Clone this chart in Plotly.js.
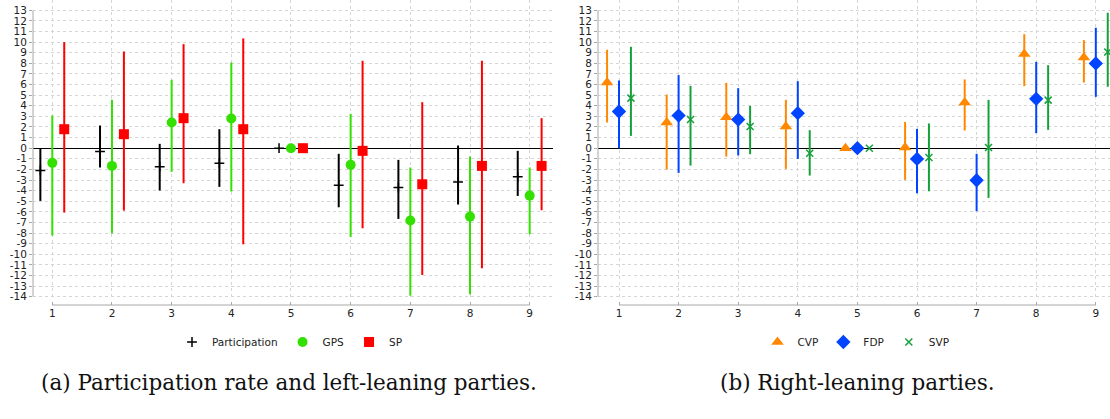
<!DOCTYPE html>
<html>
<head>
<meta charset="utf-8">
<script src="https://cdn.plot.ly/plotly-3.0.1.min.js"></script>
<style>html,body{margin:0;padding:0;background:#fff;}#chart{width:1110px;height:419px;}</style>
</head>
<body>
<div id="chart"></div>
<script>
// ---- data ----
const groups = [1, 2, 3, 4, 5, 6, 7, 8, 9];
const yTickVals = [-14,-13,-12,-11,-10,-9,-8,-7,-6,-5,-4,-3,-2,-1,0,1,2,3,4,5,6,7,8,9,10,11,12,13];
const yTickText = ["-14","-13","-12","-11","-10","-9","-8","-7","-6","-5","-4","-3","-2","-1","0","1","2","3","4","5","6","7","8","9","10","11","12","13"];

// (a) participation and left-leaning parties
const partMean = [-2.10, -0.31, -1.76, -1.42, 0, -3.49, -3.71, -3.18, -2.70];
const partLow  = [-4.97, -1.82, -3.99, -3.65, 0, -5.57, -6.67, -5.31, -4.50];
const partHigh = [-0.05, 2.14, 0.41, 1.79, 0, -0.53, -1.10, 0.25, -0.25];
const gpsMean = [-1.38, -1.67, 2.42, 2.80, 0, -1.57, -6.82, -6.45, -4.47];
const gpsLow  = [-8.24, -8.02, -2.23, -4.09, 0, -8.36, -13.90, -13.77, -8.11];
const gpsHigh = [3.08, 4.56, 6.45, 8.08, 0, 3.24, -1.82, -0.79, -1.82];
const spMean = [1.79, 1.32, 2.83, 1.79, 0, -0.25, -3.40, -1.67, -1.67];
const spLow  = [-6.07, -5.88, -3.30, -9.06, 0, -7.55, -11.95, -11.32, -5.85];
const spHigh = [10.00, 9.12, 9.81, 10.35, 0, 8.24, 4.34, 8.24, 2.83];

// (b) right-leaning parties
const cvpMean = [6.19, 2.42, 2.92, 2.04, 0, 0.06, 4.31, 8.87, 8.55];
const cvpLow  = [2.42, -2.01, -0.79, -1.95, 0, -2.99, 1.67, 5.85, 6.19];
const cvpHigh = [9.28, 5.06, 6.16, 4.56, 0, 2.48, 6.48, 10.75, 10.19];
const fdpMean = [3.46, 3.08, 2.70, 3.30, 0, -1.01, -3.02, 4.65, 7.99];
const fdpLow  = [0.00, -2.33, -0.69, -1.01, 0, -4.25, -5.94, 1.42, 4.84];
const fdpHigh = [6.38, 6.89, 5.66, 6.32, 0, 1.82, -0.53, 8.14, 11.35];
const svpMean = [4.72, 2.70, 2.04, -0.47, 0, -0.88, 0.06, 4.53, 9.06];
const svpLow  = [1.16, -1.64, -0.57, -2.58, 0, -4.06, -4.69, 1.73, 5.79];
const svpHigh = [9.56, 5.88, 3.99, 1.70, 0, 2.33, 4.56, 7.83, 12.77];

const captionA = "(a) Participation rate and left-leaning parties.";
const captionB = "(b) Right-leaning parties.";

// ---- helpers ----
const W = 1110, H = 419;
const px = v => v / W;
const py = v => 1 - v / H;
const FONT = "DejaVu Sans";

function series(name, offset, mean, low, high, color, marker, xa, ya, legend) {
  return {
    type: "scatter", mode: "markers", name: name,
    x: groups.map(g => g + offset), y: mean,
    xaxis: xa, yaxis: ya, legend: legend,
    marker: Object.assign({color: color}, marker),
    error_y: {
      type: "data", symmetric: false,
      array: high.map((h, i) => h - mean[i]),
      arrayminus: low.map((l, i) => mean[i] - l),
      color: color, thickness: 2, width: 0
    },
    cliponaxis: false
  };
}

const traces = [
  series("Participation", -0.2, partMean, partLow, partHigh, "#000000",
         {symbol: "cross-thin", size: 7, line: {color: "#000000", width: 1.5}}, "x", "y", "legend"),
  series("GPS", 0, gpsMean, gpsLow, gpsHigh, "#33e000",
         {symbol: "circle", size: 10}, "x", "y", "legend"),
  series("SP", 0.2, spMean, spLow, spHigh, "#ff0000",
         {symbol: "square", size: 10}, "x", "y", "legend"),
  series("CVP", -0.2, cvpMean, cvpLow, cvpHigh, "#ff8800",
         {symbol: "triangle-up", size: 11}, "x2", "y2", "legend2"),
  series("FDP", 0, fdpMean, fdpLow, fdpHigh, "#0044ff",
         {symbol: "diamond", size: 11}, "x2", "y2", "legend2"),
  series("SVP", 0.2, svpMean, svpLow, svpHigh, "#16a03c",
         {symbol: "x-thin", size: 7, line: {color: "#16a03c", width: 1.5}}, "x2", "y2", "legend2")
];

const tickFont = {family: FONT, size: 10.5, color: "#222"};
const gridColor = "#d6d6d6";
const axisColor = "#a8a8a8";
const yDomain = [py(300), 1];
const yRange = [-14.311, 13.971];
const xAxisPos = py(305);

function xAxis(domain, range) {
  return {
    domain: domain, range: range, anchor: "free", position: xAxisPos,
    tickmode: "array", tickvals: groups, ticktext: groups.map(String),
    ticks: "inside", ticklen: 3, tickwidth: 1, tickcolor: axisColor,
    showline: false, zeroline: false,
    showgrid: true, gridcolor: gridColor, griddash: "dot", gridwidth: 1,
    tickfont: tickFont, fixedrange: true
  };
}
function yAxis(anchor) {
  return {
    domain: yDomain, range: yRange, anchor: anchor,
    tickmode: "array", tickvals: yTickVals, ticktext: yTickText,
    ticks: "outside", ticklen: 3, tickwidth: 1, tickcolor: axisColor,
    showline: false,
    zeroline: true, zerolinecolor: "#000000", zerolinewidth: 1,
    showgrid: true, gridcolor: gridColor, griddash: "dot", gridwidth: 1,
    tickfont: tickFont, fixedrange: true
  };
}

const xDomA = [px(33), px(553)];
const xDomB = [px(598), 1];
const xRangeA = [0.6766, 9.391];
const xRangeB = [0.6477, 9.238];

const yMin = Math.min(...yTickVals), yMax = Math.max(...yTickVals);
const gMin = groups[0], gMax = groups[groups.length - 1];
const axisLine = {color: axisColor, width: 1};
const capFont = {family: "DejaVu Serif", size: 21.5, color: "#111"};

const layout = {
  width: W, height: H,
  margin: {l: 0, r: 0, t: 0, b: 0, pad: 0},
  paper_bgcolor: "#ffffff", plot_bgcolor: "#ffffff",
  font: {family: FONT, size: 10.5, color: "#222"},
  xaxis: xAxis(xDomA, xRangeA),
  yaxis: yAxis("x"),
  xaxis2: xAxis(xDomB, xRangeB),
  yaxis2: yAxis("x2"),
  legend: {orientation: "h", x: px(290), xanchor: "center", y: py(342), yanchor: "middle",
           font: {family: FONT, size: 10.5, color: "#222"}, bgcolor: "rgba(0,0,0,0)"},
  legend2: {orientation: "h", x: px(856), xanchor: "center", y: py(342), yanchor: "middle",
           font: {family: FONT, size: 10.5, color: "#222"}, bgcolor: "rgba(0,0,0,0)"},
  shapes: [
    {type: "line", xref: "paper", yref: "y", x0: xDomA[0], x1: xDomA[0], y0: yMin, y1: yMax, line: axisLine},
    {type: "line", xref: "paper", yref: "y2", x0: xDomB[0], x1: xDomB[0], y0: yMin, y1: yMax, line: axisLine},
    {type: "line", xref: "x", yref: "paper", x0: gMin, x1: gMax, y0: xAxisPos, y1: xAxisPos, line: axisLine},
    {type: "line", xref: "x2", yref: "paper", x0: gMin, x1: gMax, y0: xAxisPos, y1: xAxisPos, line: axisLine}
  ],
  annotations: [
    {text: captionA, xref: "paper", yref: "paper", x: px(289), y: py(382), xanchor: "center", yanchor: "middle",
     showarrow: false, font: capFont},
    {text: captionB, xref: "paper", yref: "paper", x: px(857), y: py(382), xanchor: "center", yanchor: "middle",
     showarrow: false, font: capFont}
  ],
  showlegend: true
};

Plotly.newPlot("chart", traces, layout, {staticPlot: true, displayModeBar: false});
</script>
</body>
</html>
